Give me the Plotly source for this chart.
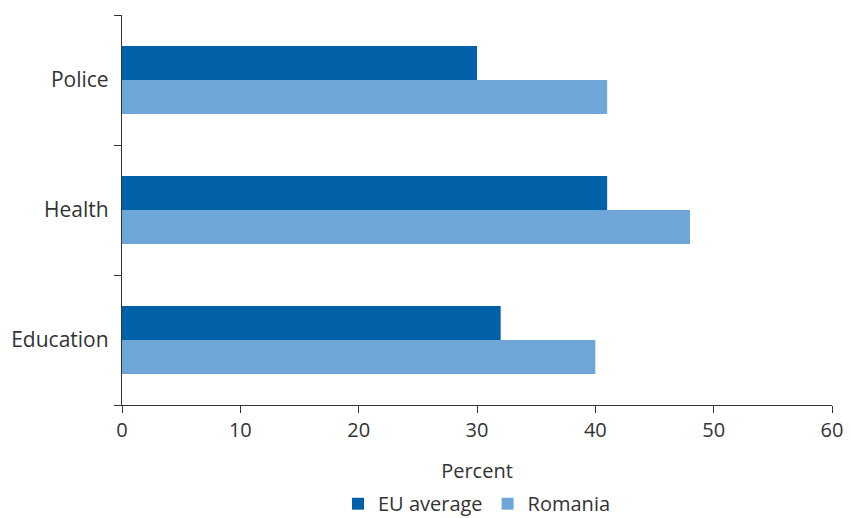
import plotly.graph_objects as go

categories = ["Education", "Health", "Police"]
eu_average = [32, 41, 30]
romania = [40, 48, 41]
x_ticks = [0, 10, 20, 30, 40, 50, 60]

DARK = "#0061A8"
LIGHT = "#6FA6D8"
TXT = "#333333"
FONT = "Open Sans"
FS = 20

fig = go.Figure()
fig.add_trace(go.Bar(y=categories, x=romania, orientation="h", name="Romania",
                     marker=dict(color=LIGHT, line=dict(width=0)), legendrank=2))
fig.add_trace(go.Bar(y=categories, x=eu_average, orientation="h", name="EU average",
                     marker=dict(color=DARK, line=dict(width=0)), legendrank=1))

fig.update_layout(
    width=851, height=518,
    margin=dict(l=122, r=19, t=15, b=113, autoexpand=False),
    paper_bgcolor="white", plot_bgcolor="white",
    barmode="group", bargap=0.477, bargroupgap=0,
    font=dict(family=FONT, size=FS, color=TXT),
    showlegend=True,
    legend=dict(orientation="h", x=0.5, xanchor="center", xref="paper",
                yref="paper", y=-0.203, yanchor="top",
                font=dict(size=FS, color=TXT), tracegroupgap=0),
    xaxis=dict(range=[0, 60], tickvals=x_ticks, showgrid=False, zeroline=False,
               showline=True, linecolor="#333333", linewidth=1.3,
               ticks="outside", ticklen=7, tickcolor="#333333", tickwidth=1.3,
               automargin=True,
               title=dict(text="Percent", standoff=21, font=dict(size=FS, color=TXT)),
               tickfont=dict(size=FS, color=TXT)),
    yaxis=dict(type="category", categoryorder="array", categoryarray=categories,
               range=[-0.5, 2.5], showgrid=False, zeroline=False,
               showline=True, linecolor="#333333", linewidth=1.3,
               ticks="outside", tickson="boundaries", ticklen=7, automargin=False,
               tickcolor="#333333", tickwidth=1.3, ticklabelstandoff=8,
               tickfont=dict(size=FS + 1, color=TXT)),
)

fig.write_html("out.html", config={"displayModeBar": False},
               post_script="document.body.style.margin='0';")
